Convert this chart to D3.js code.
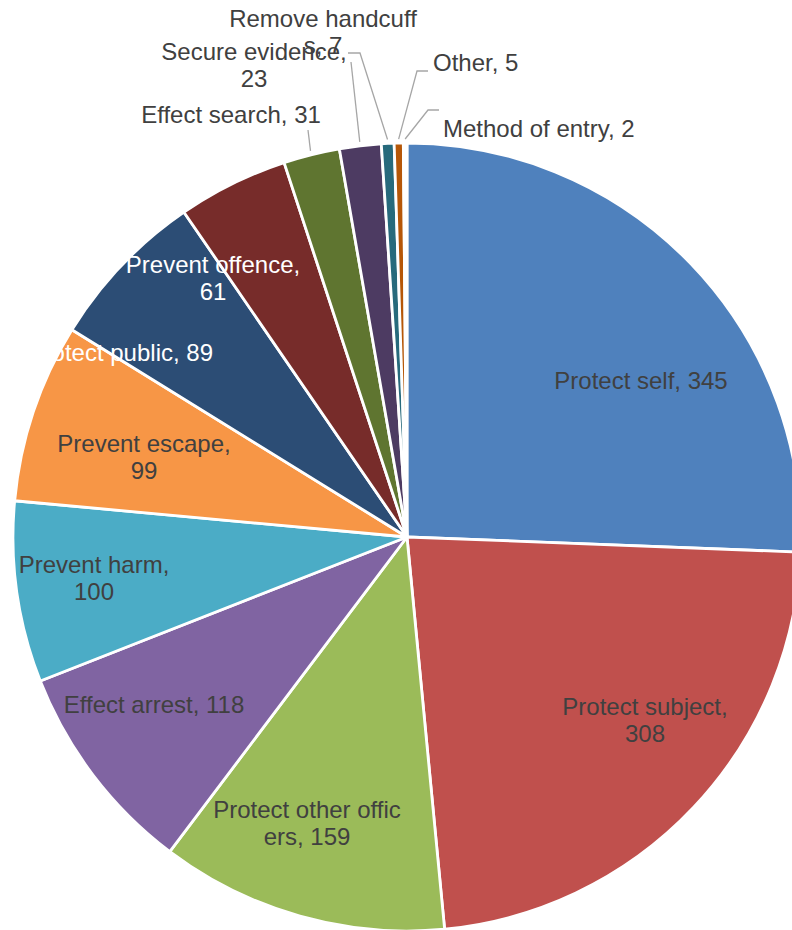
<!DOCTYPE html>
<html>
<head>
<meta charset="utf-8">
<script src="https://cdn.jsdelivr.net/npm/d3@7"></script>
<style>
    html, body { margin: 0; padding: 0; background: #fff; }
    svg { display: block; }
    .label { font-family: "Liberation Sans", Arial, sans-serif; font-size: 24px; }
</style>
</head>
<body>
<svg></svg>
<script>
// Data
const CATEGORIES = [
    'Protect self', 'Protect subject', 'Protect other officers', 'Effect arrest',
    'Prevent harm', 'Prevent escape', 'Protect public', 'Prevent offence',
    'Effect search', 'Secure evidence', 'Remove handcuffs', 'Other', 'Method of entry',
];
const VALUES = [345, 308, 159, 118, 100, 99, 89, 61, 31, 23, 7, 5, 2];
const COLORS = [
    '#4F81BD', '#C0504D', '#9BBB59', '#8064A2', '#4BACC6', '#F79646',
    '#2C4D75', '#772C2A', '#5F7530', '#4D3B62', '#276A7C', '#B65708', '#ffffff',
];

const WIDTH = 792;
const HEIGHT = 930;
const CX = 407;
const CY = 537;
const RADIUS = 394;
const LINE_GAP = 27;

// label layout (offsets from pie centre, first baseline), wrap = chars on first line
const LABEL_LAYOUT = [
    { dx: 234, dy: -148, anchor: 'middle', fill: '#404040' },
    { dx: 238, dy: 178, anchor: 'middle', fill: '#404040', wrap: 16 },
    { dx: -100, dy: 281, anchor: 'middle', fill: '#404040', wrap: 19 },
    { dx: -253, dy: 176, anchor: 'middle', fill: '#404040' },
    { dx: -313, dy: 36, anchor: 'middle', fill: '#404040', wrap: 13 },
    { dx: -263, dy: -85, anchor: 'middle', fill: '#404040', wrap: 15 },
    { dx: -194, dy: -176, anchor: 'end', fill: '#ffffff' },
    { dx: -194, dy: -264, anchor: 'middle', fill: '#ffffff', wrap: 16 },
    { dx: -176, dy: -414, anchor: 'middle', fill: '#404040', leader: [[-99, -407]] },
    { dx: -153, dy: -477, anchor: 'middle', fill: '#404040', wrap: 16, leader: [[-56, -475]] },
    { dx: -84, dy: -510, anchor: 'middle', fill: '#404040', wrap: 15, leader: [[-47, -484], [-59, -484]] },
    { dx: 26, dy: -466, anchor: 'start', fill: '#404040', leader: [[10, -466], [21, -466]] },
    { dx: 36, dy: -400, anchor: 'start', fill: '#404040', leader: [[21, -427], [32, -427]] },
];

const data = CATEGORIES.map((c, i) => ({ category: c, value: VALUES[i], idx: i }));

const svg = d3.select('svg')
    .attr('width', WIDTH)
    .attr('height', HEIGHT);

const chart = svg.append('g').attr('transform', `translate(${CX}, ${CY})`);

const pie = d3.pie().sort(null).value((d) => d.value);
const arc = d3.arc().innerRadius(0).outerRadius(RADIUS);
const rim = d3.arc().innerRadius(RADIUS + 4).outerRadius(RADIUS + 4);

const arcs = pie(data);

chart.selectAll('.slice')
    .data(arcs)
    .enter()
    .append('path')
    .classed('slice', true)
    .attr('d', arc)
    .attr('fill', (d) => COLORS[d.data.idx])
    .attr('stroke', '#fff')
    .attr('stroke-width', 2.8)
    .attr('stroke-linejoin', 'round');

// leader lines for the small slices
chart.selectAll('.leader')
    .data(arcs.filter((d) => LABEL_LAYOUT[d.data.idx].leader))
    .enter()
    .append('polyline')
    .classed('leader', true)
    .attr('points', (d) => {
        const start = rim.centroid(d);
        return [start].concat(LABEL_LAYOUT[d.data.idx].leader).map((p) => p.join(',')).join(' ');
    })
    .attr('fill', 'none')
    .attr('stroke', '#A6A6A6')
    .attr('stroke-width', 1.3);

function labelLines(d) {
    const txt = `${d.data.category}, ${d.data.value}`;
    const wrap = LABEL_LAYOUT[d.data.idx].wrap;
    if (!wrap) return [txt];
    return [txt.slice(0, wrap).trim(), txt.slice(wrap).trim()];
}

const labels = chart.selectAll('.label')
    .data(arcs)
    .enter()
    .append('text')
    .classed('label', true)
    .attr('text-anchor', (d) => LABEL_LAYOUT[d.data.idx].anchor)
    .attr('fill', (d) => LABEL_LAYOUT[d.data.idx].fill);

labels.selectAll('tspan')
    .data((d) => labelLines(d).map((t, j) => ({ t, j, lay: LABEL_LAYOUT[d.data.idx] })))
    .enter()
    .append('tspan')
    .attr('x', (l) => l.lay.dx)
    .attr('y', (l) => l.lay.dy + l.j * LINE_GAP)
    .text((l) => l.t);
</script>
</body>
</html>
